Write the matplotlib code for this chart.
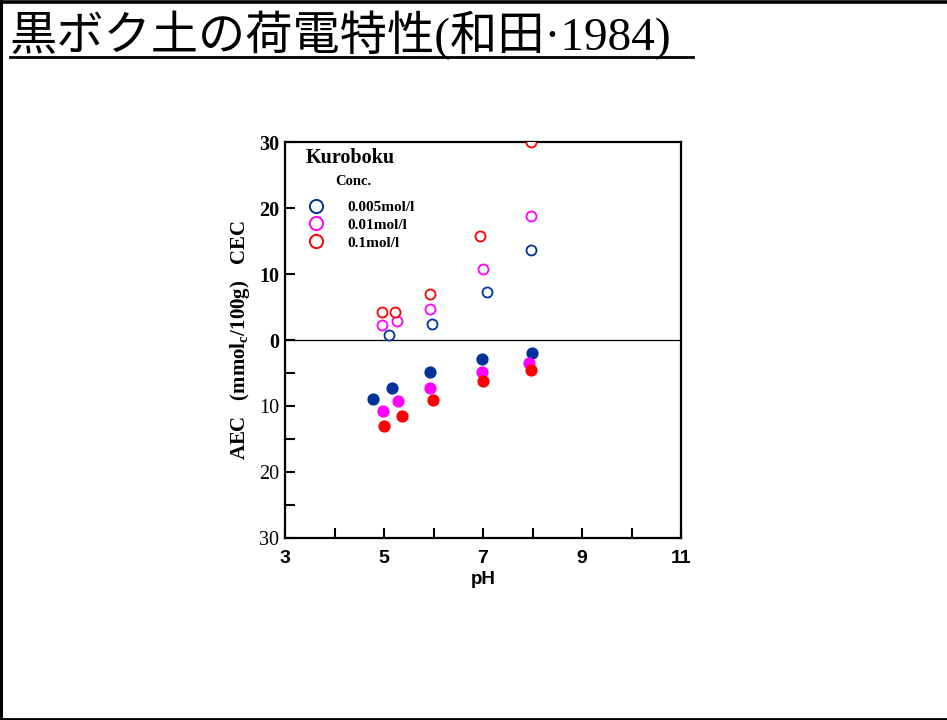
import matplotlib
matplotlib.use("Agg")
import matplotlib.pyplot as plt
from matplotlib.lines import Line2D

plt.rcParams['mathtext.default'] = 'regular'

# Charge characteristics of Kuroboku soil (Wada, 1984)
TITLE = "黒ボク土の荷電特性(和田·1984)"
CONC_LABELS = ["0.005mol/l", "0.01mol/l", "0.1mol/l"]
COLORS = ["#003399", "#ff00ff", "#ff0000"]

# CEC (open circles, positive side)
cec_ph = [
    [5.10, 5.96, 7.08, 7.96],
    [4.96, 5.27, 5.93, 6.99, 7.97],
    [4.96, 5.23, 5.93, 6.93, 7.96],
]
cec_val = [
    [0.8, 2.5, 7.3, 13.6],
    [2.3, 2.9, 4.7, 10.7, 18.8],
    [4.2, 4.3, 6.9, 15.8, 30.0],
]

# AEC (filled circles, plotted downward)
aec_ph = [
    [4.77, 5.17, 5.93, 6.97, 7.98],
    [4.97, 5.28, 5.93, 6.98, 7.92],
    [4.99, 5.36, 5.98, 6.99, 7.97],
]
aec_val = [
    [8.9, 7.2, 4.9, 2.9, 2.0],
    [10.8, 9.3, 7.2, 4.8, 3.5],
    [13.0, 11.5, 9.1, 6.2, 4.6],
]

ytick_vals = [-30, -25, -20, -15, -10, -5, 0, 10, 20, 30]
ytick_labels = ["30", "", "20", "", "10", "", "0", "10", "20", "30"]
xtick_labels = [3, 5, 7, 9, 11]

W, H = 947, 720
fig = plt.figure(figsize=(W / 100, H / 100), dpi=100)

# page frame (left, top, bottom)
fig.add_artist(Line2D([1 / W, 1 / W], [0, 1], color='black', lw=2.2))
fig.add_artist(Line2D([0, 1], [1 - 1.5 / H, 1 - 1.5 / H], color='black', lw=2.6))
fig.add_artist(Line2D([0, 1], [1.2 / H, 1.2 / H], color='black', lw=2.0))

# title with underline
fig.text(10 / W, 1 - 50 / H, TITLE, fontsize=34, va='baseline', ha='left',
         family=['Liberation Serif', 'Noto Sans CJK JP'])
fig.add_artist(Line2D([10 / W, 693 / W], [1 - 57 / H, 1 - 57 / H], color='black', lw=2.0))

ax = fig.add_axes([285 / W, 1 - 538 / H, 396 / W, 396 / H])

for ph, v, c in zip(cec_ph, cec_val, COLORS):
    ax.plot(ph, v, 'o', mfc='white', mec=c, mew=1.3, ms=7.2, ls='none', zorder=3)
for ph, v, c in zip(aec_ph, aec_val, COLORS):
    ax.plot(ph, [-x for x in v], 'o', color=c, ms=7.8, ls='none', zorder=3)

ax.axhline(0, color='black', lw=0.9, zorder=2)

ax.set_xlim(3, 11)
ax.set_ylim(-30, 30)

ax.set_xticks(xtick_labels)
ax.set_xticks(range(3, 12), minor=True)
ax.set_xticklabels([str(t) for t in xtick_labels], family='Liberation Sans',
                   fontweight='bold', fontsize=14)
ax.set_yticks(ytick_vals)
ax.set_yticklabels(ytick_labels, family='Liberation Serif', fontsize=14.5)
for val, lab in zip(ytick_vals, ax.get_yticklabels()):
    if val >= 0:
        lab.set_fontweight('bold')

ax.tick_params(axis='both', which='both', direction='in', length=7, width=1.5)
ax.tick_params(axis='x', which='major', pad=8.5)
ax.tick_params(axis='y', which='major', pad=4)
for s in ax.spines.values():
    s.set_linewidth(1.6)

ax.set_xlabel("pH", family='Liberation Sans', fontweight='bold', fontsize=13.5, labelpad=3)
ax.set_ylabel("AEC   (mmol$_c$/100g)   CEC", family='Liberation Serif',
              fontweight='bold', fontsize=15, labelpad=5)

ax.text(0.053, 0.96, "Kuroboku", transform=ax.transAxes, family='Liberation Serif',
        fontweight='bold', fontsize=14.5, va='center', ha='left')
ax.text(0.126, 0.9015, "Conc.", transform=ax.transAxes, family='Liberation Serif',
        fontweight='bold', fontsize=10.5, va='center', ha='left')

handles = [Line2D([], [], marker='o', ls='none', mfc='white', mec=c, mew=1.4, ms=9.5)
           for c in COLORS]
ax.legend(handles, CONC_LABELS, loc='upper left', bbox_to_anchor=(0.0616, 0.853),
          frameon=False, borderaxespad=0, borderpad=0, handlelength=0.85,
          handletextpad=1.65, labelspacing=0.27,
          prop={'family': 'Liberation Serif', 'weight': 'bold', 'size': 11})

fig.savefig("out.png", dpi=100)
